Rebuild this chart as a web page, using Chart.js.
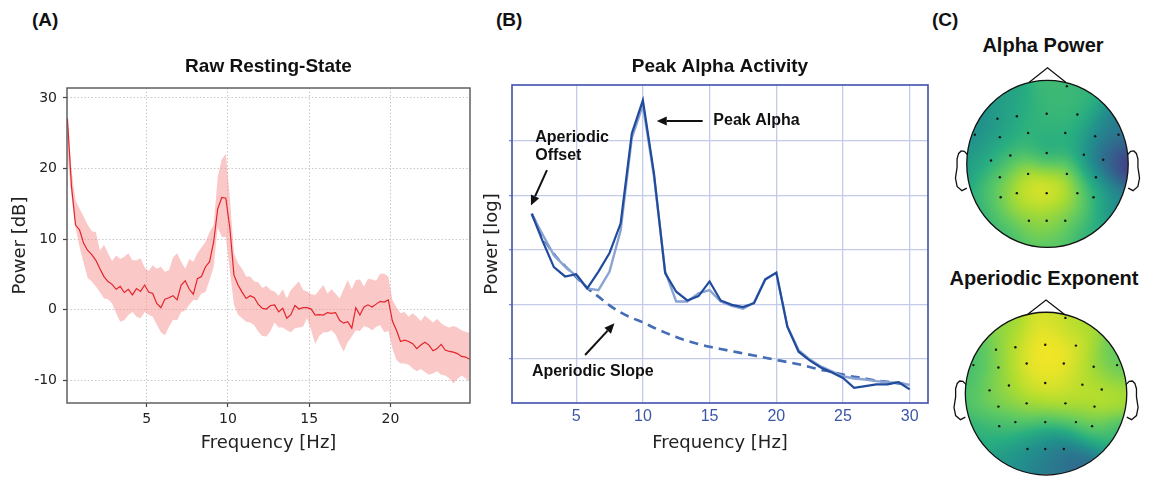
<!DOCTYPE html>
<html>
<head>
<meta charset="utf-8">
<title>Resting-state EEG spectra</title>
<script src="https://cdn.jsdelivr.net/npm/chart.js@4.4.1/dist/chart.umd.min.js"></script>
<style>
  html, body { margin: 0; padding: 0; background: #fff; }
  body { position: relative; width: 1152px; height: 478px; overflow: hidden;
         font-family: "Liberation Sans", Arial, sans-serif; color: #111; }
  canvas, .lbl { position: absolute; }
  .lbl { font-weight: bold; line-height: 22px; white-space: nowrap; }
</style>
</head>
<body>
<div class="lbl" style="left:32px;top:9px;font-size:19px">(A)</div>
<div class="lbl" style="left:496px;top:9px;font-size:19px">(B)</div>
<div class="lbl" style="left:932px;top:9px;font-size:19px">(C)</div>
<div class="lbl" style="left:943px;top:34px;width:200px;text-align:center;font-size:20px">Alpha Power</div>
<div class="lbl" style="left:944px;top:267px;width:200px;text-align:center;font-size:20px">Aperiodic Exponent</div>

<canvas id="psdRaw" width="480" height="478" style="left:0;top:0"></canvas>
<canvas id="psdFit" width="460" height="478" style="left:480px;top:0"></canvas>
<canvas id="topoAlpha" width="205" height="202" style="left:945px;top:60px"></canvas>
<canvas id="topoExp" width="205" height="188" style="left:945px;top:290px"></canvas>

<script>
// ---- (A) raw resting-state PSD: mean and spread, dB ----
const freqA = [0.125,0.375,0.625,0.875,1.125,1.375,1.625,1.875,2.125,2.375,2.625,2.875,3.125,3.375,3.625,3.875,
  4.125,4.375,4.625,4.875,5.125,5.375,5.625,5.875,6.125,6.375,6.625,6.875,7.125,7.375,7.625,7.875,8.125,8.375,
  8.625,8.875,9.125,9.375,9.625,9.875,10.125,10.375,10.625,10.875,11.125,11.375,11.625,11.875,12.125,12.375,
  12.625,12.875,13.125,13.375,13.625,13.875,14.125,14.375,14.625,14.875,15.125,15.375,15.625,15.875,16.125,
  16.375,16.625,16.875,17.125,17.375,17.625,17.875,18.125,18.375,18.625,18.875,19.125,19.375,19.625,19.875,
  20.125,20.375,20.625,20.875,21.125,21.375,21.625,21.875,22.125,22.375,22.625,22.875,23.125,23.375,23.625,
  23.875,24.125,24.375,24.625,24.875];
const meanA = [27.1,17.5,12.0,11.3,9.4,8.4,7.8,7.0,5.8,4.7,4.0,3.6,2.9,3.3,2.45,2.9,2.1,3.0,2.6,3.5,2.5,2.3,0.9,0.3,1.5,1.7,
  2.0,1.4,3.5,4.1,2.9,2.2,4.4,4.7,6.1,6.8,9.6,14.3,15.9,15.8,11.5,4.9,3.5,2.5,1.6,2.0,1.7,0.75,0.2,0.1,0.6,
  0.7,-0.3,0.2,-1.2,-0.7,0.6,0.1,0.3,0.3,0.1,-0.75,-0.7,-0.75,-0.4,-0.5,-0.4,-1.5,-1.9,-1.7,-2.6,0.3,-0.75,0.4,0.7,0.4,0.8,1.2,
  1.1,1.4,-1.6,-2.9,-4.5,-4.3,-4.5,-4.8,-5.5,-5.0,-4.6,-5.0,-5.8,-5.5,-4.9,-5.7,-5.9,-6.0,-6.2,-6.6,-6.7,-7.0];
const upperA = [27.5,19.8,15.5,14.3,13.2,12.0,11.1,11.0,8.4,9.2,8.0,6.9,7.7,7.2,7.5,8.0,7.0,7.0,7.3,6.0,5.5,6.3,5.8,6.1,5.4,5.6,
  7.4,8.0,6.8,5.8,7.2,6.8,8.0,8.8,9.6,11.0,12.0,18.8,21.3,22.1,15.8,8.0,6.6,5.8,4.7,4.7,4.0,3.9,3.1,3.4,2.8,
  2.6,2.0,2.9,1.6,2.8,3.4,4.0,2.8,2.6,2.2,2.1,2.8,3.5,2.3,2.9,2.3,1.6,2.9,4.2,2.9,4.2,4.3,3.3,4.4,4.3,4.1,5.1,
  5.1,4.7,1.4,0.4,-0.5,-0.3,-1.0,-0.5,-1.0,-1.6,-0.8,-1.3,-1.8,-1.3,-1.9,-2.3,-2.5,-2.3,-2.5,-2.9,-3.1,-3.3];
const lowerA = [22.0,16.2,11.7,8.9,6.6,4.5,4.0,3.3,2.5,1.6,1.5,0.9,-0.5,-1.7,-1.5,-0.75,-0.3,-1.0,-1.2,-0.3,-0.7,-1.0,-2.1,-3.2,-3.6,-2.4,
  -1.4,-1.5,-0.3,-0.1,0.7,1.4,1.4,2.3,2.5,4.2,6.1,11.7,10.3,10.3,5.4,0.7,-0.7,-1.2,-1.7,-1.8,-2.2,-3.1,-3.7,-3.8,-3.0,
  -1.8,-2.5,-2.5,-2.9,-3.2,-2.6,-2.5,-2.4,-1.2,-2.9,-4.8,-3.7,-3.2,-3.2,-2.9,-3.5,-4.8,-5.9,-4.6,-3.8,-2.9,-3.0,-2.3,-2.5,-2.9,-2.4,-2.2,
  -3.2,-3.0,-5.5,-7.1,-7.6,-7.6,-7.8,-8.3,-8.7,-8.4,-8.8,-9.2,-9.0,-8.7,-9.2,-9.3,-9.7,-10.4,-9.8,-9.3,-9.7,-10.2];
const xTicksA = [5, 10, 15, 20];
const yTicksA = [-10, 0, 10, 20, 30];

// ---- (B) model fit: spectrum, fitted spectrum and aperiodic component (log power) ----
const freqB = [1.67,2.5,3.33,4.17,5,5.83,6.67,7.5,8.33,9.17,10,10.83,11.67,12.5,13.33,14.17,15,15.83,16.67,17.5,
  18.33,19.17,20,20.83,21.67,22.5,23.33,24.17,25,25.83,26.67,27.5,28.33,29.17,30];
const spectrumB = [3.66,3.15,2.68,2.51,2.55,2.29,2.60,2.94,3.48,5.13,5.74,4.40,2.57,2.23,2.07,2.15,2.42,2.07,1.99,1.95,
  2.02,2.46,2.58,1.59,1.13,0.97,0.84,0.75,0.65,0.47,0.50,0.53,0.53,0.57,0.44];
const modelB = [3.66,3.27,2.90,2.69,2.52,2.29,2.26,2.60,3.35,5.05,5.65,4.35,2.60,2.05,2.05,2.20,2.26,2.05,1.97,1.92,
  2.03,2.45,2.58,1.59,1.16,0.99,0.86,0.77,0.68,0.64,0.62,0.59,0.57,0.56,0.52];
const aperiodicB = [3.66,3.24,2.92,2.70,2.50,2.30,2.14,1.98,1.85,1.75,1.67,1.57,1.48,1.40,1.33,1.27,1.22,1.18,1.14,1.10,
  1.06,1.02,0.98,0.94,0.90,0.85,0.80,0.76,0.71,0.67,0.64,0.60,0.58,0.55,0.53];
const xTicksB = [5, 10, 15, 20, 25, 30];
const yTicksB = [1, 2, 3, 4, 5];
const labelsB = [
  { text: 'Peak Alpha', x: 15.28, y: 5.36 },
  { text: 'Aperiodic', x: 1.93, y: 5.06 },
  { text: 'Offset', x: 1.93, y: 4.72 },
  { text: 'Aperiodic Slope', x: 1.68, y: 0.77 }
];
const arrowsB = [
  { from: [14.48, 5.36], to: [11.04, 5.36] },
  { from: [2.81, 4.46], to: [1.61, 3.81] },
  { from: [5.67, 1.07], to: [7.87, 1.65] }
];

// ---- (C) scalp maps: electrode layout (head radius = 1) and normalised values ----
const elecX = [0.24,-0.62,-0.38,-0.01,0.37,-0.90,-0.59,-0.24,0.22,0.59,0.88,-0.46,-0.01,0.45,
  -0.70,0.69,-0.59,-0.24,0.24,0.60,-0.58,-0.38,-0.01,0.37,0.57,-0.23,-0.01,0.22];
const elecY = [0.93,0.54,0.57,0.60,0.59,0.35,0.32,0.37,0.37,0.33,0.35,0.10,0.13,0.11,
  0.04,0.05,-0.16,-0.12,-0.12,-0.16,-0.40,-0.35,-0.35,-0.35,-0.40,-0.68,-0.68,-0.68];
const alphaPower = [0.68,0.52,0.62,0.66,0.68,0.48,0.58,0.68,0.66,0.50,0.38,0.70,0.52,0.60,
  0.60,0.15,0.74,0.95,0.92,0.50,0.72,1.00,1.00,0.95,0.60,0.80,0.88,0.74];
const aperiodicExp = [0.90,0.80,0.92,1.00,0.95,0.66,0.82,1.00,1.00,0.85,0.72,0.88,0.95,0.88,
  0.75,0.88,0.85,0.92,0.95,0.98,0.62,0.70,0.72,0.70,0.72,0.50,0.45,0.32];
// values along the scalp rim, every 30 degrees anticlockwise from the right ear
const rimAngles = [0, 30, 60, 90, 120, 150, 180, 210, 240, 270, 300, 330];
const alphaRim = [0.10, 0.42, 0.64, 0.68, 0.56, 0.46, 0.52, 0.62, 0.66, 0.70, 0.62, 0.45];
const expRim = [0.88, 0.74, 0.84, 0.95, 0.82, 0.68, 0.70, 0.62, 0.52, 0.40, 0.32, 0.64];

// head outline pieces
const nose = [[-0.23, 0.973], [0, 1.15], [0.23, 0.973]];
const ear = [[0.99,0.11],[1.03,0.15],[1.07,0.155],[1.10,0.125],[1.12,0.06],[1.12,-0.04],
  [1.14,-0.17],[1.12,-0.27],[1.06,-0.32],[1.0,-0.29]];
const viridis = ['#440154','#472d7b','#3b528b','#2c728e','#21918c','#28ae80','#5ec962','#addc30','#fde725'];

const xy = (xs, ys) => xs.map((x, i) => ({ x, y: ys[i] }));
const fixTicks = vals => s => { s.ticks = vals.map(v => ({ value: v })); };

const frame = {
  id: 'frame',
  afterDraw(chart, args, opts) {
    const { ctx, chartArea: a } = chart;
    ctx.save();
    ctx.strokeStyle = opts.color;
    ctx.lineWidth = opts.width;
    ctx.strokeRect(a.left, a.top, a.right - a.left, a.bottom - a.top);
    ctx.restore();
  }
};

const notes = {
  id: 'notes',
  afterDatasetsDraw(chart) {
    const { ctx, scales: { x, y } } = chart;
    ctx.save();
    ctx.fillStyle = '#111';
    ctx.strokeStyle = '#111';
    ctx.font = 'bold 16px "Liberation Sans", Arial, sans-serif';
    ctx.textBaseline = 'middle';
    labelsB.forEach(l => ctx.fillText(l.text, x.getPixelForValue(l.x), y.getPixelForValue(l.y)));
    ctx.lineWidth = 2;
    arrowsB.forEach(a => {
      const x0 = x.getPixelForValue(a.from[0]), y0 = y.getPixelForValue(a.from[1]);
      const x1 = x.getPixelForValue(a.to[0]), y1 = y.getPixelForValue(a.to[1]);
      const ang = Math.atan2(y1 - y0, x1 - x0);
      const hl = 10, hw = 4.5;
      const bx = x1 - hl * Math.cos(ang), by = y1 - hl * Math.sin(ang);
      ctx.beginPath();
      ctx.moveTo(x0, y0);
      ctx.lineTo(bx, by);
      ctx.stroke();
      ctx.beginPath();
      ctx.moveTo(x1, y1);
      ctx.lineTo(bx + hw * Math.sin(ang), by - hw * Math.cos(ang));
      ctx.lineTo(bx - hw * Math.sin(ang), by + hw * Math.cos(ang));
      ctx.closePath();
      ctx.fill();
    });
    ctx.restore();
  }
};

function cmap(t) {
  t = Math.max(0, Math.min(1, t)) * (viridis.length - 1);
  const i = Math.min(Math.floor(t), viridis.length - 2), f = t - i;
  const c0 = viridis[i], c1 = viridis[i + 1];
  const ch = (c, k) => parseInt(c.substr(1 + 2 * k, 2), 16);
  return [0, 1, 2].map(k => Math.round(ch(c0, k) + (ch(c1, k) - ch(c0, k)) * f));
}

// gaussian-weighted field from electrodes and rim values, then the head outline on top
const topo = {
  id: 'topo',
  beforeDatasetsDraw(chart, args, opts) {
    const { ctx, chartArea: a, scales: { x, y } } = chart;
    const pts = chart.data.datasets[0].data.concat(
      rimAngles.map((deg, i) => ({ x: Math.cos(deg * Math.PI / 180), y: Math.sin(deg * Math.PI / 180), v: opts.rim[i] })));
    const w = Math.round(a.right - a.left), h = Math.round(a.bottom - a.top);
    const off = document.createElement('canvas');
    off.width = w; off.height = h;
    const octx = off.getContext('2d');
    const img = octx.createImageData(w, h);
    const s2 = 2 * 0.2 * 0.2;
    for (let j = 0; j < h; j++) {
      const v = y.getValueForPixel(a.top + j + 0.5);
      for (let i = 0; i < w; i++) {
        const u = x.getValueForPixel(a.left + i + 0.5);
        if (u * u + v * v > 1.0) continue;
        let sw = 0, sv = 0;
        for (const p of pts) {
          const wt = Math.exp(-((u - p.x) ** 2 + (v - p.y) ** 2) / s2);
          sw += wt; sv += wt * p.v;
        }
        const c = cmap(sv / sw), k = (j * w + i) * 4;
        img.data[k] = c[0]; img.data[k + 1] = c[1]; img.data[k + 2] = c[2]; img.data[k + 3] = 255;
      }
    }
    octx.putImageData(img, 0, 0);
    ctx.drawImage(off, a.left, a.top);
  },
  afterDatasetsDraw(chart) {
    const { ctx, scales: { x, y } } = chart;
    const cx = x.getPixelForValue(0), cy = y.getPixelForValue(0);
    const rx = x.getPixelForValue(1) - cx, ry = cy - y.getPixelForValue(1);
    const path = (pts, sx) => {
      ctx.beginPath();
      pts.forEach(([px, py], i) => {
        const X = x.getPixelForValue(px * sx), Y = y.getPixelForValue(py);
        i ? ctx.lineTo(X, Y) : ctx.moveTo(X, Y);
      });
      ctx.stroke();
    };
    ctx.save();
    ctx.strokeStyle = '#111';
    ctx.lineWidth = 1.3;
    ctx.beginPath();
    ctx.ellipse(cx, cy, rx, ry, 0, 0, 2 * Math.PI);
    ctx.stroke();
    path(nose, 1);
    path(ear, 1);
    path(ear, -1);
    ctx.restore();
  }
};

const base = {
  responsive: false,
  animation: false,
  events: []
};

// (A)
new Chart(document.getElementById('psdRaw'), {
  type: 'line',
  data: {
    datasets: [
      { data: xy(freqA, meanA), borderColor: '#e3242b', borderWidth: 1.2, pointRadius: 0, fill: false },
      { data: xy(freqA, upperA), borderWidth: 0, pointRadius: 0, backgroundColor: 'rgba(248,150,150,0.52)', fill: '+1' },
      { data: xy(freqA, lowerA), borderWidth: 0, pointRadius: 0, fill: false }
    ]
  },
  options: {
    ...base,
    layout: { padding: { right: 10 } },
    plugins: {
      legend: { display: false },
      tooltip: { enabled: false },
      title: {
        display: true, text: 'Raw Resting-State', fullSize: false, color: '#111',
        font: { family: 'Liberation Sans', size: 19, weight: 'bold', lineHeight: 1.2 },
        padding: { top: 55.6, bottom: 9.6 }
      },
      frame: { color: '#555', width: 1.4 }
    },
    scales: {
      x: {
        type: 'linear', min: 0.1, max: 24.9,
        afterBuildTicks: fixTicks(xTicksA),
        afterFit: s => { s.height = 75; },
        grid: { color: '#c8c8c8', lineWidth: 1, tickLength: 4, tickColor: '#444', tickWidth: 1.2 },
        border: { display: false, dash: [1.5, 2] },
        ticks: { color: '#222', padding: 4, font: { family: 'DejaVu Sans', size: 14 } },
        title: { display: true, text: 'Frequency [Hz]', color: '#222', padding: { bottom: 24 },
                 font: { family: 'DejaVu Sans', size: 18 } }
      },
      y: {
        min: -13.2, max: 31.4,
        afterBuildTicks: fixTicks(yTicksA),
        afterFit: s => { s.width = 67; },
        grid: { color: '#c8c8c8', lineWidth: 1, tickLength: 4, tickColor: '#444', tickWidth: 1.2 },
        border: { display: false, dash: [1.5, 2] },
        ticks: { color: '#222', padding: 6, font: { family: 'DejaVu Sans', size: 14 } },
        title: { display: true, text: 'Power [dB]', color: '#222', padding: { top: 10 },
                 font: { family: 'DejaVu Sans', size: 18 } }
      }
    }
  },
  plugins: [frame]
});

// (B)
new Chart(document.getElementById('psdFit'), {
  type: 'line',
  data: {
    datasets: [
      { data: xy(freqB, spectrumB), borderColor: '#214b9c', borderWidth: 2.2, pointRadius: 0, fill: false },
      { data: xy(freqB, modelB), borderColor: '#8aa3d2', borderWidth: 2.4, pointRadius: 0, fill: false },
      { data: xy(freqB, aperiodicB), borderColor: '#456db5', borderWidth: 2.6, borderDash: [9, 6],
        pointRadius: 0, fill: false, cubicInterpolationMode: 'monotone' }
    ]
  },
  options: {
    ...base,
    layout: { padding: { right: 12 } },
    plugins: {
      legend: { display: false },
      tooltip: { enabled: false },
      title: {
        display: true, text: 'Peak Alpha Activity', fullSize: false, color: '#111',
        font: { family: 'Liberation Sans', size: 19, weight: 'bold', lineHeight: 1.2 },
        padding: { top: 55.6, bottom: 6.6 }
      },
      frame: { color: '#3f51ad', width: 1.6 }
    },
    scales: {
      x: {
        type: 'linear', min: 0.19, max: 31.37,
        afterBuildTicks: fixTicks(xTicksB),
        afterFit: s => { s.height = 75; },
        grid: { color: '#c3cbe9', lineWidth: 1.3, drawTicks: false },
        border: { display: false },
        ticks: { color: '#3d56a6', padding: 4, font: { family: '"Liberation Sans Narrow", "Liberation Sans"', size: 16 } },
        title: { display: true, text: 'Frequency [Hz]', color: '#222', padding: { bottom: 24 },
                 font: { family: 'DejaVu Sans', size: 18 } }
      },
      y: {
        min: 0.19, max: 6.02,
        afterBuildTicks: fixTicks(yTicksB),
        afterFit: s => { s.width = 32; },
        grid: { color: '#c3cbe9', lineWidth: 1.3, tickLength: 3, tickColor: '#7f90cf' },
        border: { display: false },
        ticks: { callback: () => '', padding: 0 },
        title: { display: true, text: 'Power [log]', color: '#222', padding: { top: 1.5 },
                 font: { family: 'DejaVu Sans', size: 18 } }
      }
    }
  },
  plugins: [frame, notes]
});

// (C)
function scalpMap(id, values, rim, xr, yr) {
  return new Chart(document.getElementById(id), {
    type: 'scatter',
    data: {
      datasets: [{
        data: elecX.map((x, i) => ({ x, y: elecY[i], v: values[i] })),
        pointRadius: 1.2, backgroundColor: '#111', borderWidth: 0
      }]
    },
    options: {
      ...base,
      layout: { padding: 0 },
      plugins: { legend: { display: false }, tooltip: { enabled: false }, topo: { rim } },
      scales: {
        x: { type: 'linear', min: xr[0], max: xr[1], display: false },
        y: { type: 'linear', min: yr[0], max: yr[1], display: false }
      }
    },
    plugins: [topo]
  });
}
scalpMap('topoAlpha', alphaPower, alphaRim, [-1.22, 1.22], [-1.126, 1.195]);
scalpMap('topoExp', aperiodicExp, expRim, [-1.202, 1.238], [-0.988, 1.224]);
</script>
</body>
</html>
